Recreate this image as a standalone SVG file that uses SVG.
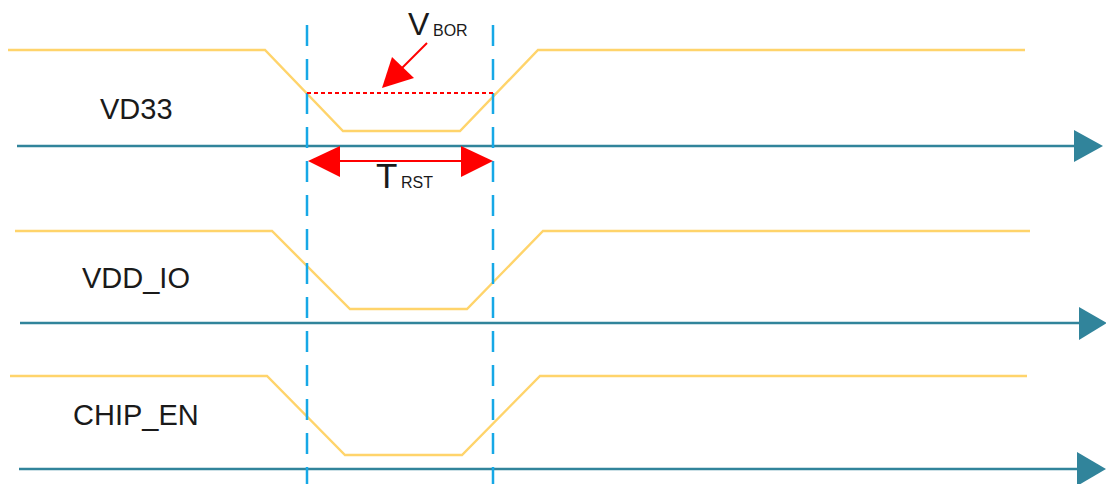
<svg xmlns="http://www.w3.org/2000/svg" width="1106" height="484" viewBox="0 0 1106 484">
<style>
.sig{fill:none;stroke:#FFD46B;stroke-width:2.4;stroke-linejoin:miter}
.axis{stroke:#31849B;stroke-width:2.5;fill:none}
.head{fill:#31849B}
.guide{stroke:#16A8E6;stroke-width:2.5;stroke-dasharray:21 13;fill:none}
.lbl{font-family:"Liberation Sans",Arial,sans-serif;font-size:29px;fill:#1a1a1a}
.sub{font-family:"Liberation Sans",Arial,sans-serif;font-size:16px;fill:#1a1a1a}
.red{stroke:#FF0000;fill:none}
.redfill{fill:#FF0000}
</style>
<rect width="1106" height="484" fill="#ffffff"/>
<g id="vd33">
<polyline class="sig" points="8,50 265,50 343,131 460,131 538,50 1025,50"/>
<text class="lbl" x="100" y="119">VD33</text>
</g>
<g id="vdd_io">
<polyline class="sig" points="15,231 272,231 350,309 467,309 543,231 1030,231"/>
<text class="lbl" x="82" y="288">VDD_IO</text>
</g>
<g id="chip_en">
<polyline class="sig" points="10,376 267,376 345,455 462,455 540,376 1027,376"/>
<text class="lbl" x="73" y="425">CHIP_EN</text>
</g>
<g id="connectors">
<line class="axis" x1="17" y1="146" x2="1080" y2="146"/>
<polygon class="head" points="1074,130 1103,146 1074,162"/>
<line class="axis" x1="20" y1="323" x2="1084" y2="323"/>
<polygon class="head" points="1079,307 1107,323 1079,340"/>
<line class="axis" x1="19" y1="469" x2="1082" y2="469"/>
<polygon class="head" points="1077,452 1106,469 1077,486"/>
<line class="guide" x1="307" y1="25" x2="307" y2="484"/>
<line class="guide" x1="493" y1="25" x2="493" y2="484"/>
<line class="red" x1="307" y1="93" x2="493" y2="93" stroke-width="2" stroke-dasharray="4 3"/>
<line class="red" x1="427" y1="43" x2="402" y2="68" stroke-width="2"/>
<polygon class="redfill" points="382,88 392,57 414,78"/>
<line class="red" x1="335" y1="161" x2="465" y2="161" stroke-width="2.2"/>
<polygon class="redfill" points="308,161 340,146 340,177"/>
<polygon class="redfill" points="493,161 461,146 461,177"/>
</g>
<g id="vbor">
<text class="lbl" x="408" y="35" style="font-size:32px">V</text>
<text class="sub" x="433" y="36">BOR</text>
</g>
<g id="trst">
<text class="lbl" x="376" y="188" style="font-size:35px">T</text>
<text class="sub" x="401" y="188">RST</text>
</g>
</svg>
